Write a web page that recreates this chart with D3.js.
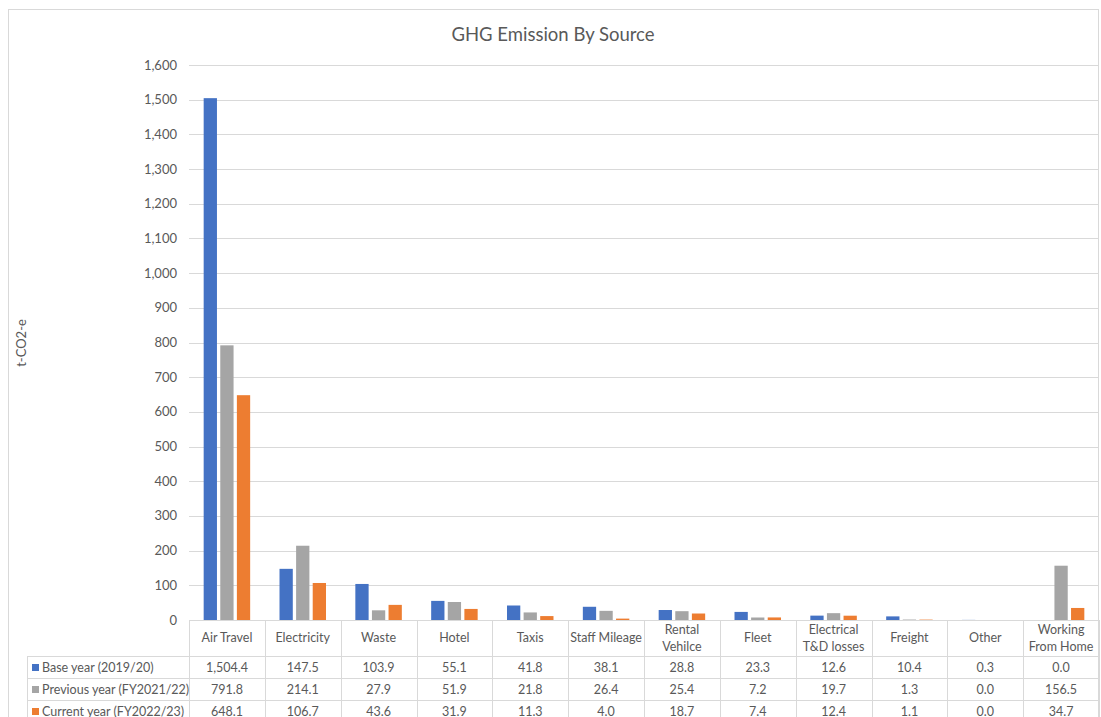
<!DOCTYPE html>
<meta charset="utf-8">
<style>
    body { margin: 0; background: #fff; }
    text { font-family: Lato, "Open Sans", sans-serif; fill: #595959; }
</style>
<body>
<div id="chart"></div>
<script src="https://cdn.jsdelivr.net/npm/d3@7"></script>
<script>
    var categories = ["Air Travel", "Electricity", "Waste", "Hotel", "Taxis", "Staff Mileage",
        "Rental\nVehilce", "Fleet", "Electrical\nT&D losses", "Freight", "Other", "Working\nFrom Home"];
    var seriesNames = ["Base year (2019/20)", "Previous year (FY2021/22)", "Current year (FY2022/23)"];
    var baseYear = [1504.4, 147.5, 103.9, 55.1, 41.8, 38.1, 28.8, 23.3, 12.6, 10.4, 0.3, 0.0];
    var previousYear = [791.8, 214.1, 27.9, 51.9, 21.8, 26.4, 25.4, 7.2, 19.7, 1.3, 0.0, 156.5];
    var currentYear = [648.1, 106.7, 43.6, 31.9, 11.3, 4.0, 18.7, 7.4, 12.4, 1.1, 0.0, 34.7];
    var yTicks = [0, 100, 200, 300, 400, 500, 600, 700, 800, 900, 1000, 1100, 1200, 1300, 1400, 1500, 1600];

    var colors = ["#4472C4", "#A5A5A5", "#ED7D31"];
    var series = [baseYear, previousYear, currentYear];

    var width = 1101, height = 717;
    var plotLeft = 189, plotRight = 1099, plotTop = 65, plotBottom = 620;
    var rowTop = [656, 678, 700], tableLeft = 27;

    var svg = d3.select("#chart").append("svg")
        .attr("width", width)
        .attr("height", height);

    // chart border
    svg.append("rect")
        .attr("x", 8.5).attr("y", 9.5)
        .attr("width", 1090).attr("height", 720)
        .attr("fill", "none").attr("stroke", "#D9D9D9");

    svg.append("text")
        .attr("x", 553).attr("y", 41)
        .attr("text-anchor", "middle")
        .style("font-size", "18.5px")
        .text("GHG Emission By Source");

    var x0 = d3.scaleBand().domain(categories).range([plotLeft, plotRight]);
    var groupW = x0.bandwidth() * 0.613;
    var x1 = d3.scaleBand().domain([0, 1, 2]).range([0, groupW]).paddingInner(0.2);
    var y = d3.scaleLinear().domain([0, 1600]).range([plotBottom, plotTop]);

    // gridlines
    svg.append("g").selectAll("line")
        .data(yTicks.slice(1))
        .enter().append("line")
        .attr("x1", plotLeft).attr("x2", plotRight)
        .attr("y1", function (d) { return Math.round(y(d)) + 0.5; })
        .attr("y2", function (d) { return Math.round(y(d)) + 0.5; })
        .attr("stroke", "#D9D9D9");

    // y tick labels
    svg.append("g").selectAll("text")
        .data(yTicks)
        .enter().append("text")
        .attr("x", 177)
        .attr("y", function (d) { return y(d) + 4.5; })
        .attr("text-anchor", "end")
        .style("font-size", "13px")
        .text(d3.format(","));

    svg.append("text")
        .attr("transform", "translate(26,343) rotate(-90)")
        .attr("text-anchor", "middle")
        .style("font-size", "13px")
        .text("t-CO2-e");

    // bars
    var groups = svg.append("g").selectAll("g")
        .data(categories)
        .enter().append("g")
        .attr("transform", function (d) {
            return "translate(" + (x0(d) + (x0.bandwidth() - groupW) / 2) + ",0)";
        });

    groups.selectAll("rect")
        .data(function (d, i) { return series.map(function (s, k) { return { k: k, v: s[i] }; }); })
        .enter().append("rect")
        .attr("x", function (d) { return x1(d.k); })
        .attr("width", x1.bandwidth())
        .attr("y", function (d) { return y(d.v); })
        .attr("height", function (d) { return plotBottom - y(d.v); })
        .attr("fill", function (d) { return colors[d.k]; });

    // data table
    var grid = svg.append("g").attr("stroke", "#D9D9D9").attr("fill", "none");
    grid.append("line").attr("x1", plotLeft).attr("x2", plotRight).attr("y1", plotBottom + 0.5).attr("y2", plotBottom + 0.5);
    rowTop.forEach(function (t) {
        grid.append("line").attr("x1", tableLeft).attr("x2", plotRight).attr("y1", t + 0.5).attr("y2", t + 0.5);
    });
    grid.append("line").attr("x1", tableLeft + 0.5).attr("x2", tableLeft + 0.5).attr("y1", rowTop[0]).attr("y2", height);
    categories.concat([null]).forEach(function (c) {
        var xx = c === null ? plotRight : x0(c);
        grid.append("line").attr("x1", Math.round(xx) + 0.5).attr("x2", Math.round(xx) + 0.5)
            .attr("y1", plotBottom).attr("y2", height);
    });

    // category headers
    categories.forEach(function (c) {
        var lines = c.split("\n");
        var cx = x0(c) + x0.bandwidth() / 2;
        lines.forEach(function (l, j) {
            svg.append("text")
                .attr("x", cx)
                .attr("y", lines.length === 1 ? 642 : 634 + j * 17)
                .attr("text-anchor", "middle")
                .style("font-size", "12.5px")
                .text(l);
        });
    });

    // series rows
    seriesNames.forEach(function (name, k) {
        svg.append("rect")
            .attr("x", 32).attr("y", rowTop[k] + 8)
            .attr("width", 7).attr("height", 7)
            .attr("fill", colors[k]);
        svg.append("text")
            .attr("x", 42).attr("y", rowTop[k] + 15.5)
            .style("font-size", "12.5px")
            .text(name);
        categories.forEach(function (c, i) {
            svg.append("text")
                .attr("x", x0(c) + x0.bandwidth() / 2)
                .attr("y", rowTop[k] + 15.5)
                .attr("text-anchor", "middle")
                .style("font-size", "12.5px")
                .text(d3.format(",.1f")(series[k][i]));
        });
    });
</script>
</body>
